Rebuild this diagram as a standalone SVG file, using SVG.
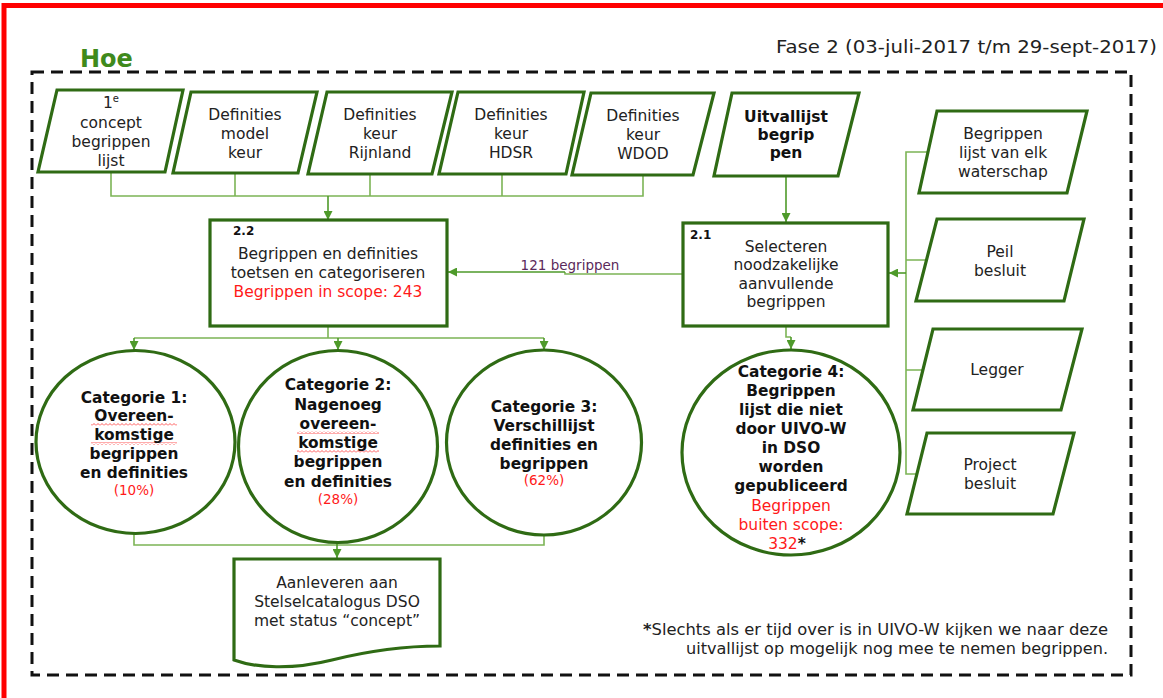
<svg xmlns="http://www.w3.org/2000/svg" width="1163" height="698" viewBox="0 0 1163 698">
<defs>
<style>
.sh{fill:#fff;stroke:#2f6b14;stroke-width:3.2;stroke-linejoin:miter}
.cn{fill:none;stroke:#7cb455;stroke-width:1.6}
.ca{fill:none;stroke:#4e9a2a;stroke-width:1.6}
.t{font-family:"DejaVu Sans",Verdana,sans-serif;font-size:15.5px;fill:#222;text-anchor:middle}
.b{font-weight:bold;fill:#111}
.r{fill:#ff1a1a}
.c{font-family:"DejaVu Sans",Verdana,sans-serif;font-size:15.4px;font-weight:bold;fill:#111;text-anchor:middle}
.p{font-family:"DejaVu Sans",Verdana,sans-serif;font-size:13.5px;fill:#ff1a1a;text-anchor:middle}
.n{font-family:"DejaVu Sans",Verdana,sans-serif;font-size:12px;font-weight:bold;fill:#111}
</style>
<marker id="ah" viewBox="0 0 10 10" refX="10" refY="5" markerWidth="9" markerHeight="9" markerUnits="userSpaceOnUse" orient="auto">
<path d="M0,0 L10,5 L0,10 Z" fill="#4e9a2a"/>
</marker>
<pattern id="wave" width="4" height="3" patternUnits="userSpaceOnUse">
<path d="M0,2.5 L2,0.5 L4,2.5" fill="none" stroke="#ff3030" stroke-width="0.8"/>
</pattern>
</defs>
<rect x="0" y="0" width="1163" height="698" fill="#fff"/>
<rect x="4" y="5.5" width="1300" height="1000" fill="none" stroke="#ff0000" stroke-width="5"/>
<text x="80" y="67" font-family="'DejaVu Sans',Verdana,sans-serif" font-size="24" font-weight="bold" fill="#3f8a1c">Hoe</text>
<text x="776" y="53" font-family="'DejaVu Sans',Verdana,sans-serif" font-size="18.5" fill="#222" textLength="381" lengthAdjust="spacingAndGlyphs">Fase 2 (03-juli-2017 t/m 29-sept-2017)</text>
<rect x="32" y="72" width="1099" height="603" fill="none" stroke="#111" stroke-width="3" stroke-dasharray="12,7"/>

<g id="connectors">
<path class="cn" d="M111,172 V196 H643 V175 M235,173 V196 M370,174 V196 M502,174 V196"/>
<path class="ca" d="M328,196 V220" marker-end="url(#ah)"/>
<path class="ca" d="M786,176 V222" marker-end="url(#ah)"/>
<path class="cn" d="M683,274 H565 V272"/>
<path class="ca" d="M565,272 H448" marker-end="url(#ah)"/>
<path class="cn" d="M928,152 H906 V474 H917 M906,260 H926 M906,370 H923"/>
<path class="ca" d="M906,273 H889" marker-end="url(#ah)"/>
<path class="cn" d="M786,326 V337 H791"/>
<path class="ca" d="M791,337 V349" marker-end="url(#ah)"/>
<path class="cn" d="M328,326 V338 M134,338 H544"/>
<path class="ca" d="M134,338 V350" marker-end="url(#ah)"/>
<path class="ca" d="M338,338 V350" marker-end="url(#ah)"/>
<path class="ca" d="M544,338 V350" marker-end="url(#ah)"/>
<path class="cn" d="M134,534 V545 H544 V535"/>
<path class="ca" d="M337,543 V558" marker-end="url(#ah)"/>
<text x="570" y="270" font-family="'DejaVu Sans',Verdana,sans-serif" font-size="13.5" fill="#5b2a5b" text-anchor="middle">121 begrippen</text>
</g>

<g id="in-concept">
<path class="sh" d="M57,90 L183,90 L165,172 L38,172 Z"/>
<text class="t" x="111"><tspan x="111" y="108">1<tspan font-size="10" dy="-6">e</tspan></tspan><tspan x="111" y="128">concept</tspan><tspan x="111" y="147">begrippen</tspan><tspan x="111" y="166">lijst</tspan></text>
</g>
<g id="in-model">
<path class="sh" d="M191,92 L317,92 L298,173 L173,173 Z"/>
<text class="t"><tspan x="245" y="120">Definities</tspan><tspan x="245" y="139">model</tspan><tspan x="245" y="158">keur</tspan></text>
</g>
<g id="in-rijnland">
<path class="sh" d="M327,92 L452,92 L432,174 L308,174 Z"/>
<text class="t"><tspan x="380" y="120">Definities</tspan><tspan x="380" y="139">keur</tspan><tspan x="380" y="158">Rijnland</tspan></text>
</g>
<g id="in-hdsr">
<path class="sh" d="M458,92 L584,92 L566,174 L439,174 Z"/>
<text class="t"><tspan x="511" y="120">Definities</tspan><tspan x="511" y="139">keur</tspan><tspan x="511" y="158">HDSR</tspan></text>
</g>
<g id="in-wdod">
<path class="sh" d="M591,93 L714,93 L693,175 L572,175 Z"/>
<text class="t"><tspan x="643" y="121">Definities</tspan><tspan x="643" y="140">keur</tspan><tspan x="643" y="159">WDOD</tspan></text>
</g>
<g id="in-uitval">
<path class="sh" d="M732,93 L859,93 L838,176 L714,176 Z"/>
<text class="t b" font-size="12.8"><tspan x="786" y="122">Uitvallijst</tspan><tspan x="786" y="140">begrip</tspan><tspan x="786" y="158">pen</tspan></text>
</g>

<g id="src-waterschap">
<path class="sh" d="M937,111 L1087,111 L1067,193 L919,193 Z"/>
<text class="t"><tspan x="1003" y="139">Begrippen</tspan><tspan x="1003" y="158">lijst van elk</tspan><tspan x="1003" y="177">waterschap</tspan></text>
</g>
<g id="src-peil">
<path class="sh" d="M937,219 L1084,219 L1064,301 L916,301 Z"/>
<text class="t"><tspan x="1000" y="257">Peil</tspan><tspan x="1000" y="276">besluit</tspan></text>
</g>
<g id="src-legger">
<path class="sh" d="M933,329 L1082,329 L1061,410 L913,410 Z"/>
<text class="t" x="997" y="375">Legger</text>
</g>
<g id="src-project">
<path class="sh" d="M927,433 L1074,433 L1053,514 L907,514 Z"/>
<text class="t"><tspan x="990" y="470">Project</tspan><tspan x="990" y="489">besluit</tspan></text>
</g>

<g id="step-2-2">
<rect class="sh" x="210" y="220" width="237" height="106"/>
<text class="n" x="233" y="235">2.2</text>
<text class="t" font-size="16"><tspan x="328" y="259">Begrippen en definities</tspan><tspan x="328" y="278">toetsen en categoriseren</tspan><tspan x="328" y="297" class="r">Begrippen in scope: 243</tspan></text>
</g>
<g id="step-2-1">
<rect class="sh" x="683" y="223" width="205" height="103"/>
<text class="n" x="690" y="239">2.1</text>
<text class="t" font-size="16"><tspan x="786" y="252">Selecteren</tspan><tspan x="786" y="270">noodzakelijke</tspan><tspan x="786" y="289">aanvullende</tspan><tspan x="786" y="307">begrippen</tspan></text>
</g>

<g id="cat-1">
<ellipse class="sh" cx="135.5" cy="442" rx="99.5" ry="91.5"/>
<rect x="91" y="423" width="86" height="3" fill="url(#wave)"/>
<rect x="91" y="442" width="86" height="3" fill="url(#wave)"/>
<text class="c"><tspan x="134" y="403">Categorie 1:</tspan><tspan x="134" y="421">Overeen-</tspan><tspan x="134" y="440">komstige</tspan><tspan x="134" y="459">begrippen</tspan><tspan x="134" y="478">en definities</tspan></text>
<text class="p" x="134" y="495">(10%)</text>
</g>
<g id="cat-2">
<ellipse class="sh" cx="338" cy="446.5" rx="99.5" ry="96"/>
<rect x="297" y="431" width="82" height="3" fill="url(#wave)"/>
<rect x="297" y="450" width="82" height="3" fill="url(#wave)"/>
<text class="c"><tspan x="338" y="390">Categorie 2:</tspan><tspan x="338" y="410">Nagenoeg</tspan><tspan x="338" y="429">overeen-</tspan><tspan x="338" y="448">komstige</tspan><tspan x="338" y="467">begrippen</tspan><tspan x="338" y="487">en definities</tspan></text>
<text class="p" x="338" y="504">(28%)</text>
</g>
<g id="cat-3">
<ellipse class="sh" cx="544" cy="442.5" rx="97.5" ry="92.5"/>
<text class="c"><tspan x="544" y="412">Categorie 3:</tspan><tspan x="544" y="431">Verschillijst</tspan><tspan x="544" y="450">definities en</tspan><tspan x="544" y="469">begrippen</tspan></text>
<text class="p" x="544" y="485">(62%)</text>
</g>
<g id="cat-4">
<ellipse class="sh" cx="791" cy="452.5" rx="109" ry="102.5"/>
<text class="c" font-size="16.3"><tspan x="791" y="377">Categorie 4:</tspan><tspan x="791" y="396">Begrippen</tspan><tspan x="791" y="415">lijst die niet</tspan><tspan x="791" y="434">door UIVO-W</tspan><tspan x="791" y="453">in DSO</tspan><tspan x="791" y="472">worden</tspan><tspan x="791" y="491">gepubliceerd</tspan></text>
<text class="t r" font-size="16"><tspan x="791" y="511">Begrippen</tspan><tspan x="791" y="530">buiten scope:</tspan><tspan x="787" y="549">332<tspan fill="#111" font-weight="bold">*</tspan></tspan></text>
</g>

<g id="deliver">
<path class="sh" d="M234,559 H440 V646 C405,646 372,650 332,660 C292,670 256,668 234,660 Z"/>
<text class="t"><tspan x="337" y="588">Aanleveren aan</tspan><tspan x="337" y="607">Stelselcatalogus DSO</tspan><tspan x="337" y="626">met status “concept”</tspan></text>
</g>

<g id="footnote">
<text font-family="'DejaVu Sans',Verdana,sans-serif" font-size="15.5" fill="#222" x="643" y="635" textLength="465" lengthAdjust="spacingAndGlyphs"><tspan font-weight="bold">*</tspan>Slechts als er tijd over is in UIVO-W kijken we naar deze</text>
<text font-family="'DejaVu Sans',Verdana,sans-serif" font-size="15.5" fill="#222" x="686" y="654" textLength="422" lengthAdjust="spacingAndGlyphs">uitvallijst op mogelijk nog mee te nemen begrippen.</text>
</g>
</svg>
